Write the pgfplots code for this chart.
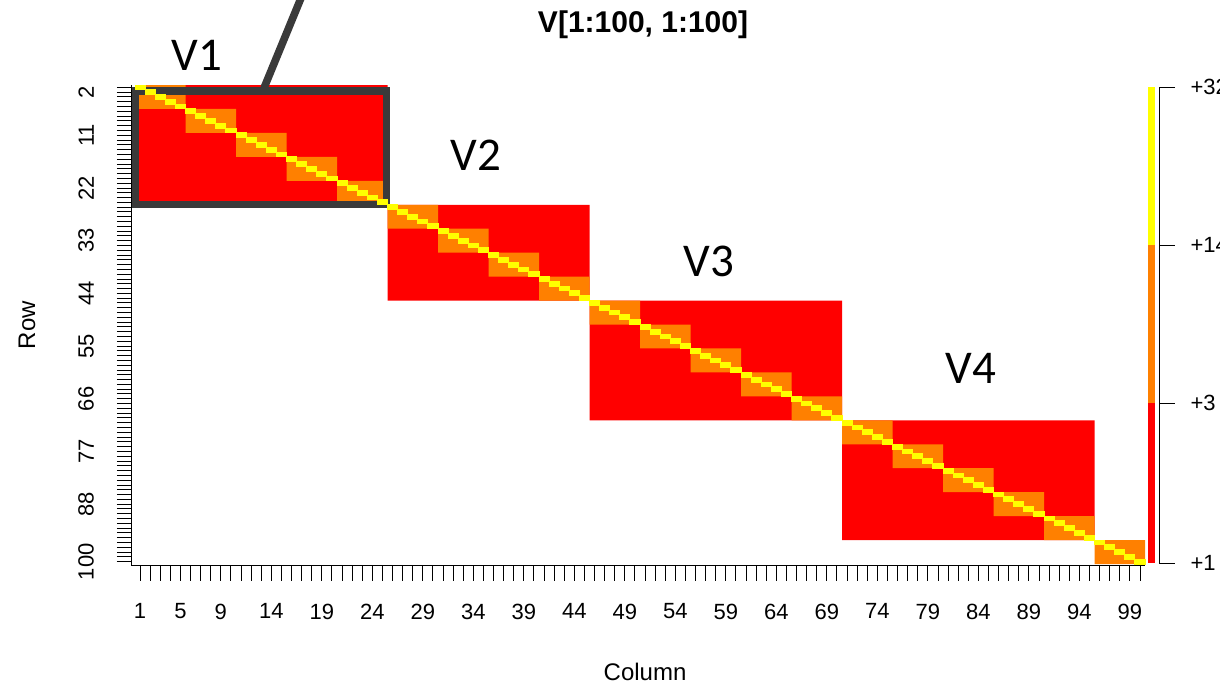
\documentclass[border=0pt]{standalone}
\usepackage{fontspec}
\setmainfont{Liberation Sans}
\newfontfamily\calibri{Carlito}
\usepackage{pgfplots}
\pgfplotsset{compat=1.18}
\definecolor{cRed}{HTML}{FF0000}
\definecolor{cOrange}{HTML}{FF8000}
\definecolor{cYellow}{HTML}{FFFF00}
\definecolor{boxgray}{HTML}{3A3A3A}
\begin{document}
\begin{tikzpicture}
\begin{axis}[
  x=5.05pt, y=2.395pt, y dir=reverse,
  xmin=0.2, xmax=100.5, ymin=0.5, ymax=100.85,
  axis x line*=bottom, axis y line*=left,
  axis line style={-, line width=0.5pt},
  clip=false,
  tick align=outside,
  major tick length=7.5pt, minor tick length=7.5pt,
  every tick/.style={black, line width=0.5pt},
  xtick={1,5,9,14,19,24,29,34,39,44,49,54,59,64,69,74,79,84,89,94,99},
  minor xtick={1,...,100},
  ytick={2,11,22,33,44,55,66,77,88,100},
  minor ytick={1,...,100},
  /pgf/number format/assume math mode=true,
  ticklabel style={font=\fontsize{11}{13}\selectfont},
  yticklabel style={rotate=90, anchor=south},
  xticklabel style={anchor=north},
  xticklabel shift=8pt,
  yticklabel shift=8pt,
]
% red blocks V1..V4
\addplot[fill=cRed, draw=none, unbounded coords=jump] coordinates {
(0.5,0.5) (25.5,0.5) (25.5,25.5) (0.5,25.5)
(nan,nan)
(25.5,25.5) (45.5,25.5) (45.5,45.5) (25.5,45.5)
(nan,nan)
(45.5,45.5) (70.5,45.5) (70.5,70.5) (45.5,70.5)
(nan,nan)
(70.5,70.5) (95.5,70.5) (95.5,95.5) (70.5,95.5)
};
% orange 5x5 sub-blocks
\addplot[fill=cOrange, draw=none, unbounded coords=jump] coordinates {
(0.5,0.5) (5.5,0.5) (5.5,5.5) (0.5,5.5) (nan,nan)
(5.5,5.5) (10.5,5.5) (10.5,10.5) (5.5,10.5) (nan,nan)
(10.5,10.5) (15.5,10.5) (15.5,15.5) (10.5,15.5) (nan,nan)
(15.5,15.5) (20.5,15.5) (20.5,20.5) (15.5,20.5) (nan,nan)
(20.5,20.5) (25.5,20.5) (25.5,25.5) (20.5,25.5) (nan,nan)
(25.5,25.5) (30.5,25.5) (30.5,30.5) (25.5,30.5) (nan,nan)
(30.5,30.5) (35.5,30.5) (35.5,35.5) (30.5,35.5) (nan,nan)
(35.5,35.5) (40.5,35.5) (40.5,40.5) (35.5,40.5) (nan,nan)
(40.5,40.5) (45.5,40.5) (45.5,45.5) (40.5,45.5) (nan,nan)
(45.5,45.5) (50.5,45.5) (50.5,50.5) (45.5,50.5) (nan,nan)
(50.5,50.5) (55.5,50.5) (55.5,55.5) (50.5,55.5) (nan,nan)
(55.5,55.5) (60.5,55.5) (60.5,60.5) (55.5,60.5) (nan,nan)
(60.5,60.5) (65.5,60.5) (65.5,65.5) (60.5,65.5) (nan,nan)
(65.5,65.5) (70.5,65.5) (70.5,70.5) (65.5,70.5) (nan,nan)
(70.5,70.5) (75.5,70.5) (75.5,75.5) (70.5,75.5) (nan,nan)
(75.5,75.5) (80.5,75.5) (80.5,80.5) (75.5,80.5) (nan,nan)
(80.5,80.5) (85.5,80.5) (85.5,85.5) (80.5,85.5) (nan,nan)
(85.5,85.5) (90.5,85.5) (90.5,90.5) (85.5,90.5) (nan,nan)
(90.5,90.5) (95.5,90.5) (95.5,95.5) (90.5,95.5) (nan,nan)
(95.5,95.5) (100.5,95.5) (100.5,100.5) (95.5,100.5)
};
% yellow diagonal
\addplot[only marks, mark=square*, mark size=1.1975pt,
  mark options={fill=cYellow, draw=cYellow, line width=0pt, xscale=2.1086}] coordinates {
(1,1) (2,2) (3,3) (4,4) (5,5) (6,6) (7,7) (8,8) (9,9) (10,10)
(11,11) (12,12) (13,13) (14,14) (15,15) (16,16) (17,17) (18,18) (19,19) (20,20)
(21,21) (22,22) (23,23) (24,24) (25,25) (26,26) (27,27) (28,28) (29,29) (30,30)
(31,31) (32,32) (33,33) (34,34) (35,35) (36,36) (37,37) (38,38) (39,39) (40,40)
(41,41) (42,42) (43,43) (44,44) (45,45) (46,46) (47,47) (48,48) (49,49) (50,50)
(51,51) (52,52) (53,53) (54,54) (55,55) (56,56) (57,57) (58,58) (59,59) (60,60)
(61,61) (62,62) (63,63) (64,64) (65,65) (66,66) (67,67) (68,68) (69,69) (70,70)
(71,71) (72,72) (73,73) (74,74) (75,75) (76,76) (77,77) (78,78) (79,79) (80,80)
(81,81) (82,82) (83,83) (84,84) (85,85) (86,86) (87,87) (88,88) (89,89) (90,90)
(91,91) (92,92) (93,93) (94,94) (95,95) (96,96) (97,97) (98,98) (99,99) (100,100)
};
% colour key
\addplot[fill=cYellow, draw=none] coordinates {(100.8,0.92) (101.49,0.92) (101.49,33.9) (100.8,33.9)};
\addplot[fill=cOrange, draw=none] coordinates {(100.8,33.9) (101.49,33.9) (101.49,66.89) (100.8,66.89)};
\addplot[fill=cRed, draw=none] coordinates {(100.8,66.89) (101.49,66.89) (101.49,100.29) (100.8,100.29)};
\draw[line width=0.5pt] (axis cs:103.47,0.92) -- (axis cs:101.89,0.92) -- (axis cs:101.89,100.29) -- (axis cs:103.47,100.29);
\draw[line width=0.5pt] (axis cs:101.89,33.9) -- (axis cs:103.47,33.9);
\draw[line width=0.5pt] (axis cs:101.89,66.89) -- (axis cs:103.47,66.89);
\begin{scope}[every node/.style={anchor=west, inner sep=0pt, font=\fontsize{11}{13}\selectfont}]
\node at (axis cs:104.96,0.92) {+32};
\node at (axis cs:104.96,33.9) {+14};
\node at (axis cs:104.96,66.89) {+3};
\node at (axis cs:104.96,100.29) {+1};
\end{scope}
% titles
\node[font=\bfseries\fontsize{15}{18}\selectfont] at (axis cs:50.8,-12.03) {V[1:100, 1:100]};
\node[font=\fontsize{12}{14}\selectfont] at (axis cs:51.0,123.05) {Column};
\node[rotate=90, font=\fontsize{12}{14}\selectfont] at (axis cs:-10.19,50.6) {Row};
% annotation overlay
\draw[boxgray, line width=3.8pt] (axis cs:0.53,1.75) rectangle (axis cs:25.4,25.45);
\draw[boxgray, line width=3.8pt] (axis cs:13.27,1.13) -- (axis cs:17.1,-18.5);
\begin{scope}[every node/.style={font=\calibri\fontsize{23.5}{28}\selectfont}]
\node at (axis cs:6.64,-5.76) {V1};
\node at (axis cs:34.26,15.11) {V2};
\node at (axis cs:57.33,37.24) {V3};
\node at (axis cs:83.27,59.58) {V4};
\end{scope}
\coordinate (bbA) at (axis cs:-12.866,-17.245);
\coordinate (bbB) at (axis cs:107.92,125.55);
\end{axis}
\pgfresetboundingbox
\useasboundingbox (bbA) rectangle (bbB);
\end{tikzpicture}
\end{document}
